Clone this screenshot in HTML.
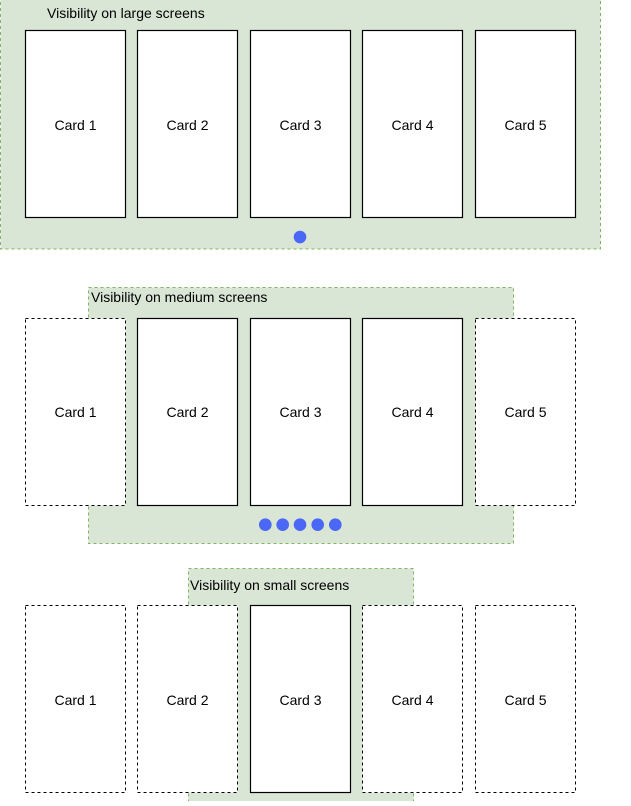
<!DOCTYPE html>
<html><head><meta charset="utf-8"><style>
body{margin:0;width:631px;height:801px;background:#fff;overflow:hidden;font-family:"Liberation Sans",Arial,sans-serif}
</style></head><body>
<svg width="631" height="801" xmlns="http://www.w3.org/2000/svg" font-family="Liberation Sans, Arial, sans-serif" font-size="14" fill="#000">
<g stroke="#82b366" stroke-dasharray="3,3" fill="#d9e6d6">
<rect x="0.5" y="-5" width="600" height="254"/>
<rect x="88.5" y="287.5" width="425" height="256"/>
<rect x="188.5" y="568.5" width="225" height="240"/>
</g>
<g font-size="14">
<text x="47" y="18">Visibility on large screens</text>
<text x="91" y="302">Visibility on medium screens</text>
<text x="190" y="590">Visibility on small screens</text>
</g>
<g fill="#fff" stroke="#000" stroke-width="1.2">
<rect x="25.5" y="30.5" width="100" height="187"/>
<rect x="137.5" y="30.5" width="100" height="187"/>
<rect x="250.5" y="30.5" width="100" height="187"/>
<rect x="362.5" y="30.5" width="100" height="187"/>
<rect x="475.5" y="30.5" width="100" height="187"/>

<rect x="137.5" y="318.5" width="100" height="187"/>
<rect x="250.5" y="318.5" width="100" height="187"/>
<rect x="362.5" y="318.5" width="100" height="187"/>

<rect x="250.5" y="605.5" width="100" height="187"/>
</g>
<g fill="#fff" stroke="#000" stroke-width="1" stroke-dasharray="3,3">
<rect x="25.5" y="318.5" width="100" height="187"/>
<rect x="475.5" y="318.5" width="100" height="187"/>
<rect x="25.5" y="605.5" width="100" height="187"/>
<rect x="137.5" y="605.5" width="100" height="187"/>
<rect x="362.5" y="605.5" width="100" height="187"/>
<rect x="475.5" y="605.5" width="100" height="187"/>
</g>
<g text-anchor="middle">
<text x="75.5" y="130">Card 1</text><text x="187.5" y="130">Card 2</text><text x="300.5" y="130">Card 3</text><text x="412.5" y="130">Card 4</text><text x="525.5" y="130">Card 5</text>
<text x="75.5" y="417">Card 1</text><text x="187.5" y="417">Card 2</text><text x="300.5" y="417">Card 3</text><text x="412.5" y="417">Card 4</text><text x="525.5" y="417">Card 5</text>
<text x="75.5" y="705">Card 1</text><text x="187.5" y="705">Card 2</text><text x="300.5" y="705">Card 3</text><text x="412.5" y="705">Card 4</text><text x="525.5" y="705">Card 5</text>
</g>
<g fill="#4a67f5">
<circle cx="300" cy="237" r="6.3"/>
<circle cx="265.3" cy="524.7" r="6.3"/>
<circle cx="282.7" cy="524.7" r="6.3"/>
<circle cx="300" cy="524.7" r="6.3"/>
<circle cx="317.7" cy="524.7" r="6.3"/>
<circle cx="335.3" cy="524.7" r="6.3"/>
</g>
</svg>
</body></html>
